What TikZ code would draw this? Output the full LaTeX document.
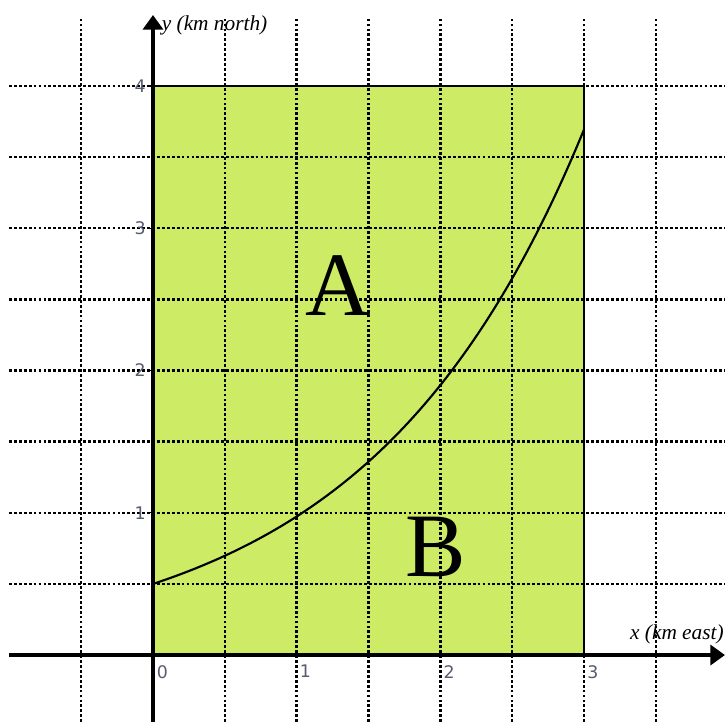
\documentclass[tikz,border=0pt]{standalone}
\usepackage{fontspec}
\setmainfont{Liberation Serif}
\newfontfamily\tickfont{DejaVu Sans}
\usetikzlibrary{arrows.meta}
\definecolor{regiongreen}{RGB}{205,235,100}
\definecolor{tickgray}{RGB}{85,92,110}
\tikzset{
  gridline/.style={line width=1.8pt, dash pattern=on 2.1pt off 1.6pt, black},
  axisline/.style={line width=3pt, -{Triangle[length=11pt,width=15pt]}},
  border/.style={line width=1.8pt},
  curveline/.style={line width=1.6pt},
  ticklabel/.style={inner sep=0pt, text=tickgray, font=\tickfont\fontsize{13}{14}\selectfont},
  axislabel/.style={inner sep=0pt, font=\itshape\fontsize{16}{17}\selectfont},
  regionlabel/.style={inner sep=0pt, anchor=base, font=\fontsize{68}{68}\selectfont}
}
\begin{document}
\begin{tikzpicture}[x=107.75pt, y=106.69pt]
\useasboundingbox (-1.0649,-0.4710) rectangle (3.9813,4.6046);
% region
\fill[regiongreen] (0,0) rectangle (3,4);
% grid
\foreach \gx in {-0.5,0.5,1,1.5,2,2.5,3,3.5}
  \draw[gridline] (\gx,-0.4710) -- (\gx,4.48);
\foreach \gy in {0.5,1,1.5,2,2.5,3,3.5,4}
  \draw[gridline] (-1.0023,\gy) -- (3.9813,\gy);
% region border
\draw[border] (0,4) -- (3,4) -- (3,0);
% curve
\draw[curveline] plot[domain=0:3, samples=120, smooth] (\x,{0.5*exp(2*\x/3)});
% ticks
\foreach \t in {1,2,3,4}
  \draw[line width=0.8pt] (-0.03,\t) -- (0,\t);
% axes
\coordinate (xstart) at (-1.0023,0);
\coordinate (xend) at (3.9813,0);
\coordinate (ystart) at (0,-0.4710);
\coordinate (yend) at (0,4.499);
\draw[axisline] (xstart) -- (xend);
\draw[axisline] (ystart) -- (yend);
% tick labels
\node[ticklabel, anchor=north west] (x0) at (0.025,-0.0703) {0};
\node[ticklabel, anchor=north west] (x1) at (1.0209,-0.0703) {1};
\node[ticklabel, anchor=north west] (x2) at (2.0209,-0.0703) {2};
\node[ticklabel, anchor=north west] (x3) at (3.0209,-0.0703) {3};
\node[ticklabel, anchor=east] (y1) at (-0.049,1) {1};
\node[ticklabel, anchor=east] (y2) at (-0.049,2) {2};
\node[ticklabel, anchor=east] (y3) at (-0.049,3) {3};
\node[ticklabel, anchor=east] (y4) at (-0.049,4) {4};
% axis labels
\node[axislabel, anchor=west] (ylab) at (0.060,4.4289) {y (km north)};
\node[axislabel, anchor=east] (xlab) at (3.9743,0.1476) {x (km east)};
% region labels
\node[regionlabel] (A) at (1.288,2.390) {A};
\node[regionlabel] (B) at (1.970,0.555) {B};
\end{tikzpicture}
\end{document}
